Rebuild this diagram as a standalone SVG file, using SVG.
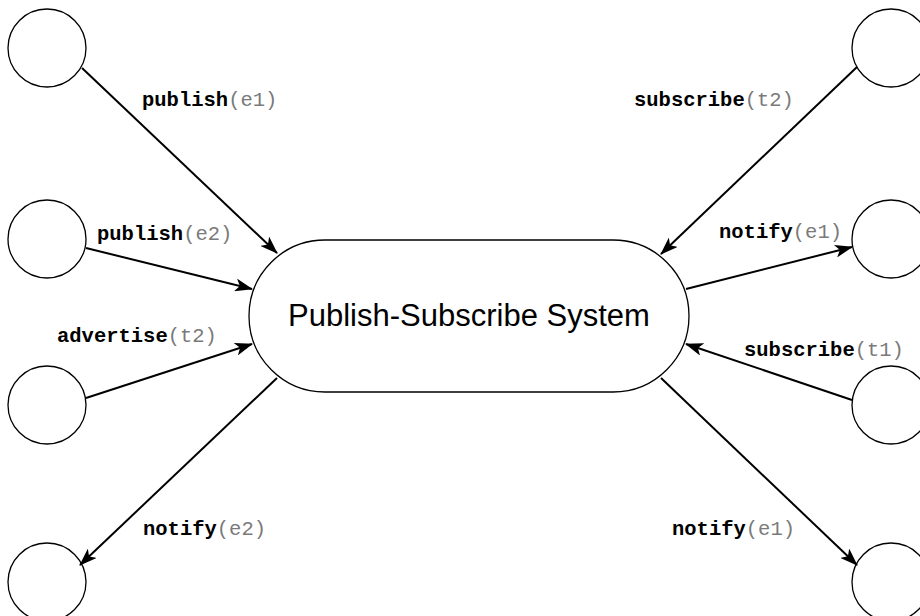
<svg xmlns="http://www.w3.org/2000/svg" width="920" height="616" viewBox="0 0 920 616">
  <style>
    .actor { fill: #ffffff; stroke: #000000; stroke-width: 1.3; }
    .system { fill: #ffffff; stroke: #000000; stroke-width: 1.3; }
    .title { font-family: "Liberation Sans", Arial, Helvetica, sans-serif; font-size: 31px; fill: #000000; text-anchor: middle; }
    .edge { stroke: #000000; stroke-width: 2; fill: none; marker-end: url(#arrow); }
    .lbl { font-family: "Liberation Mono", "Courier New", monospace; font-size: 20.5px; }
    .fn { font-weight: bold; fill: #000000; }
    .arg { fill: #7a7a7a; }
  </style>
  <defs>
    <marker id="arrow" viewBox="0 0 18 13" refX="17" refY="6.5" markerWidth="18" markerHeight="13" markerUnits="userSpaceOnUse" orient="auto">
      <path d="M0,0 L18,6.5 L0,13 L4.5,6.5 Z" fill="#000000"/>
    </marker>
  </defs>
  <rect width="920" height="616" fill="#ffffff"/>

  <!-- clients on the left -->
  <g id="client-l1"><circle class="actor" cx="47" cy="48" r="39"/></g>
  <g id="client-l2"><circle class="actor" cx="47" cy="239" r="39"/></g>
  <g id="client-l3"><circle class="actor" cx="47" cy="405" r="39"/></g>
  <g id="client-l4"><circle class="actor" cx="47" cy="582" r="39"/></g>

  <!-- clients on the right -->
  <g id="client-r1"><circle class="actor" cx="891" cy="48" r="39"/></g>
  <g id="client-r2"><circle class="actor" cx="891" cy="239" r="39"/></g>
  <g id="client-r3"><circle class="actor" cx="891" cy="405" r="39"/></g>
  <g id="client-r4"><circle class="actor" cx="891" cy="582" r="39"/></g>

  <!-- central broker -->
  <g id="pubsub-system">
    <rect class="system" x="249" y="240" width="440" height="152" rx="76" ry="76"/>
    <text class="title" x="469" y="326">Publish-Subscribe System</text>
  </g>

  <!-- interactions -->
  <g id="connectors">
    <line class="edge" x1="82" y1="68" x2="277" y2="253"/>
    <line class="edge" x1="86" y1="248" x2="252" y2="289"/>
    <line class="edge" x1="86" y1="398" x2="252" y2="344"/>
    <line class="edge" x1="277" y1="378" x2="80" y2="565"/>
    <line class="edge" x1="857" y1="67" x2="661" y2="254"/>
    <line class="edge" x1="686" y1="289" x2="852" y2="247"/>
    <line class="edge" x1="852" y1="400" x2="686" y2="344"/>
    <line class="edge" x1="661" y1="378" x2="857" y2="565"/>
  </g>

  <!-- operation labels -->
  <g id="labels" class="lbl">
    <text x="142" y="106"><tspan class="fn">publish</tspan><tspan class="arg">(e1)</tspan></text>
    <text x="97" y="240"><tspan class="fn">publish</tspan><tspan class="arg">(e2)</tspan></text>
    <text x="57" y="342"><tspan class="fn">advertise</tspan><tspan class="arg">(t2)</tspan></text>
    <text x="143" y="535"><tspan class="fn">notify</tspan><tspan class="arg">(e2)</tspan></text>
    <text x="634" y="106"><tspan class="fn">subscribe</tspan><tspan class="arg">(t2)</tspan></text>
    <text x="719" y="238"><tspan class="fn">notify</tspan><tspan class="arg">(e1)</tspan></text>
    <text x="744" y="356"><tspan class="fn">subscribe</tspan><tspan class="arg">(t1)</tspan></text>
    <text x="672" y="535"><tspan class="fn">notify</tspan><tspan class="arg">(e1)</tspan></text>
  </g>
</svg>
